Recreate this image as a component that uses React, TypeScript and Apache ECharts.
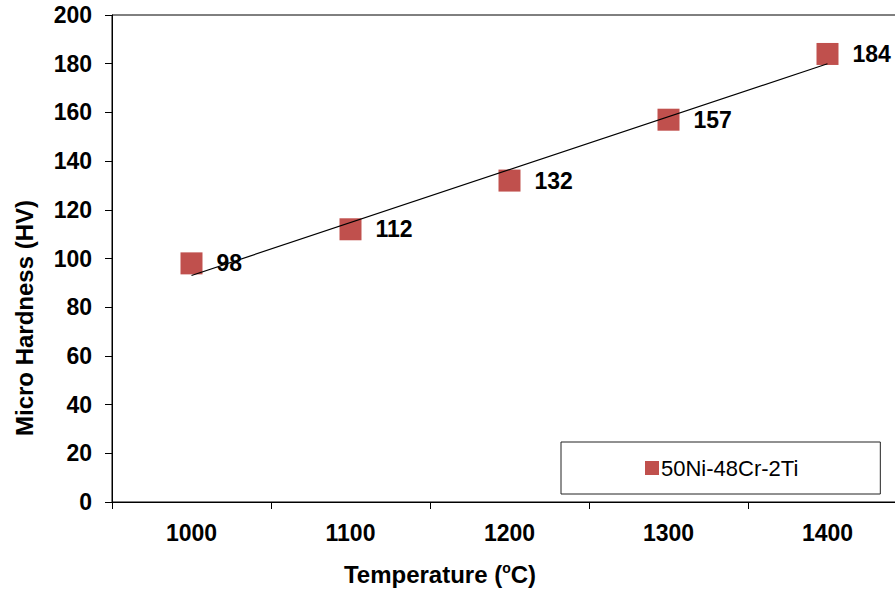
import React, { useEffect, useRef } from "react";
import * as echarts from "echarts";

const categories = ["1000", "1100", "1200", "1300", "1400"];
const hardness = [98, 112, 132, 157, 184];
const trendEnds = [93, 180];
const yTicks = { min: 0, max: 200, interval: 20 };
const seriesName = "50Ni-48Cr-2Ti";
const xTitle = "Temperature (ºC)";
const yTitle = "Micro Hardness (HV)";

const FONT = "'Liberation Sans', Arial, sans-serif";

export default function App() {
  const ref = useRef<HTMLDivElement>(null);
  useEffect(() => {
    if (!ref.current) return;
    const chart = echarts.init(ref.current, undefined, { renderer: "svg" });
    chart.setOption({
      animation: false,
      backgroundColor: "#ffffff",
      textStyle: { fontFamily: FONT },
      grid: {
        left: 112,
        width: 795,
        top: 15,
        height: 487,
        outerBoundsMode: "none",
        containLabel: false,
        show: true,
        borderColor: "#000",
        borderWidth: 1,
        backgroundColor: "transparent",
      },
      legend: {
        data: [seriesName],
        left: 561,
        top: 442,
        orient: "horizontal",
        padding: [15, 82, 15, 84],
        borderColor: "#222",
        borderWidth: 1,
        backgroundColor: "#fff",
        itemWidth: 14,
        itemHeight: 14,
        icon: "rect",
        itemStyle: { opacity: 1 },
        textStyle: { fontFamily: FONT, fontSize: 22, color: "#000", padding: [0, 0, 0, -3] },
      },
      xAxis: {
        type: "category",
        data: categories,
        boundaryGap: true,
        axisLine: { show: true, lineStyle: { color: "#000", width: 1 } },
        axisTick: { show: true, length: 7, lineStyle: { color: "#000" } },
        axisLabel: { fontFamily: FONT, fontSize: 23, fontWeight: "bold", color: "#000", margin: 19 },
        splitLine: { show: false },
      },
      yAxis: {
        type: "value",
        min: yTicks.min,
        max: yTicks.max,
        interval: yTicks.interval,
        axisLine: { show: true, lineStyle: { color: "#000", width: 1 } },
        axisTick: { show: true, length: 7, lineStyle: { color: "#000" } },
        axisLabel: { fontFamily: FONT, fontSize: 23, fontWeight: "bold", color: "#000", margin: 20 },
        splitLine: { show: false },
      },
      series: [
        {
          name: seriesName,
          type: "scatter",
          data: hardness,
          symbol: "rect",
          symbolSize: 22,
          itemStyle: { color: "#C0504D", opacity: 1 },
          z: 2,
          label: {
            show: true,
            position: "right",
            distance: 14,
            fontFamily: FONT,
            fontSize: 23,
            fontWeight: "bold",
            color: "#000",
          },
        },
        {
          name: "trend",
          type: "line",
          data: [
            [categories[0], trendEnds[0]],
            [categories[categories.length - 1], trendEnds[1]],
          ],
          symbol: "none",
          lineStyle: { color: "#000", width: 1.2 },
          z: 5,
          silent: true,
        },
      ],
      graphic: [
        {
          type: "text",
          x: 440,
          y: 574,
          style: {
            text: "{a|Temperature (}{s|o}{a|C)}",
            align: "center",
            verticalAlign: "middle",
            rich: {
              a: { fontFamily: FONT, fontSize: 24, fontWeight: "bold", fill: "#000", lineHeight: 26 },
              s: { fontFamily: FONT, fontSize: 14, fontWeight: "bold", fill: "#000", verticalAlign: "top", lineHeight: 14 },
            },
          },
        },
        {
          type: "text",
          x: 24,
          y: 318,
          rotation: Math.PI / 2,
          style: {
            text: yTitle,
            align: "center",
            verticalAlign: "middle",
            fontFamily: FONT,
            fontSize: 24,
            fontWeight: "bold",
            fill: "#000",
          },
        },
      ],
    });
    return () => chart.dispose();
  }, []);
  return (
    <div
      ref={ref}
      style={{ position: "fixed", left: 0, top: 0, width: 895, height: 592 }}
      data-xtitle={xTitle}
    />
  );
}
